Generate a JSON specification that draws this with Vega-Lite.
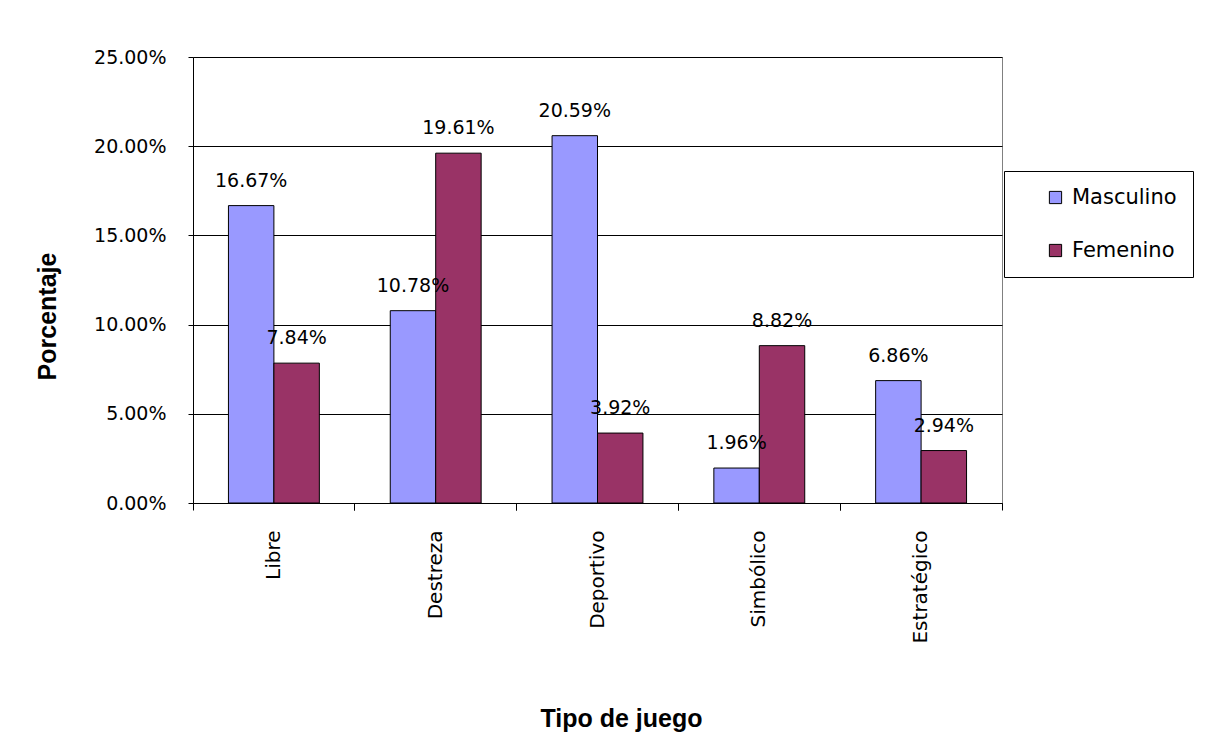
{
  "$schema": "https://vega.github.io/schema/vega-lite/v6.json",
  "width": 809,
  "height": 446,
  "autosize": {"type": "none"},
  "padding": {"left": 193, "top": 57, "right": 208, "bottom": 252},
  "background": "white",
  "data": {
    "values": [
      {"tipo": "Libre", "sexo": "Masculino", "valor": 0.1667},
      {"tipo": "Libre", "sexo": "Femenino", "valor": 0.0784},
      {"tipo": "Destreza", "sexo": "Masculino", "valor": 0.1078},
      {"tipo": "Destreza", "sexo": "Femenino", "valor": 0.1961},
      {"tipo": "Deportivo", "sexo": "Masculino", "valor": 0.2059},
      {"tipo": "Deportivo", "sexo": "Femenino", "valor": 0.0392},
      {"tipo": "Simbólico", "sexo": "Masculino", "valor": 0.0196},
      {"tipo": "Simbólico", "sexo": "Femenino", "valor": 0.0882},
      {"tipo": "Estratégico", "sexo": "Masculino", "valor": 0.0686},
      {"tipo": "Estratégico", "sexo": "Femenino", "valor": 0.0294}
    ]
  },
  "encoding": {
    "xOffset": {
      "field": "sexo",
      "type": "nominal",
      "sort": ["Masculino", "Femenino"],
      "scale": {"paddingInner": 0, "paddingOuter": 0.78}
    },
    "y": {
      "field": "valor",
      "type": "quantitative",
      "scale": {"domain": [0, 0.25], "nice": false},
      "axis": {
        "title": "Porcentaje",
        "values": [0, 0.05, 0.1, 0.15, 0.2, 0.25],
        "format": ".2%",
        "labelFont": "DejaVu Sans",
        "labelFontSize": 19,
        "labelColor": "black",
        "labelPadding": 22,
        "tickSize": 5,
        "tickColor": "black",
        "domainColor": "black",
        "grid": true,
        "gridColor": "black",
        "gridOpacity": 1,
        "gridWidth": 1,
        "titleFont": "Liberation Sans",
        "titleFontSize": 25,
        "titleFontWeight": "bold",
        "titleColor": "black",
        "titleAngle": -90,
        "titleX": -138,
        "titleY": 259,
        "titleAlign": "center",
        "titleBaseline": "alphabetic"
      }
    }
  },
  "layer": [
    {
      "mark": {"type": "bar", "stroke": "black", "strokeWidth": 1},
      "encoding": {
        "x": {
          "field": "tipo",
          "type": "nominal",
          "sort": ["Libre", "Destreza", "Deportivo", "Simbólico", "Estratégico"],
          "scale": {"paddingInner": 0, "paddingOuter": 0},
          "axis": {
            "orient": "bottom",
            "title": "Tipo de juego",
            "labelAngle": -90,
            "labelFont": "DejaVu Sans",
            "labelFontSize": 20,
            "labelColor": "black",
            "labelPadding": 20,
            "tickSize": 7,
            "tickColor": "black",
            "domainColor": "black",
            "bandPosition": 0,
            "grid": false,
            "titleFont": "Liberation Sans",
            "titleFontSize": 25,
            "titleFontWeight": "bold",
            "titleColor": "black",
            "titleX": 428,
            "titleY": 223,
            "titleAlign": "center",
            "titleBaseline": "alphabetic"
          }
        },
        "color": {
          "field": "sexo",
          "type": "nominal",
          "sort": ["Masculino", "Femenino"],
          "scale": {"domain": ["Masculino", "Femenino"], "range": ["#9999FF", "#993366"]},
          "legend": {
            "title": null,
            "orient": "none",
            "legendX": 811,
            "legendY": 114,
            "padding": 16,
            "strokeColor": "black",
            "fillColor": "white",
            "symbolType": "square",
            "symbolSize": 150,
            "symbolStrokeColor": "black",
            "symbolStrokeWidth": 1,
            "symbolOffset": 25,
            "labelOffset": 6,
            "labelExpr": "datum.label + '\u00a0\u00a0'",
            "labelFont": "DejaVu Sans",
            "labelFontSize": 21,
            "labelColor": "black",
            "rowPadding": 31
          }
        }
      }
    },
    {
      "mark": {"type": "text", "dy": -25, "baseline": "middle", "align": "center", "font": "DejaVu Sans", "fontSize": 19, "color": "black"},
      "encoding": {
        "x": {
          "field": "tipo",
          "type": "nominal",
          "sort": ["Libre", "Destreza", "Deportivo", "Simbólico", "Estratégico"],
          "axis": {
            "orient": "bottom",
            "title": null,
            "labels": false,
            "domain": false,
            "grid": false,
            "tickSize": 7,
            "tickColor": "black",
            "bandPosition": 1
          }
        },
        "text": {"field": "valor", "type": "quantitative", "format": ".2%"}
      }
    }
  ],
  "resolve": {"axis": {"x": "independent"}},
  "config": {
    "view": {"stroke": "#808080", "strokeWidth": 1},
    "axis": {"domainWidth": 1, "tickWidth": 1}
  }
}
